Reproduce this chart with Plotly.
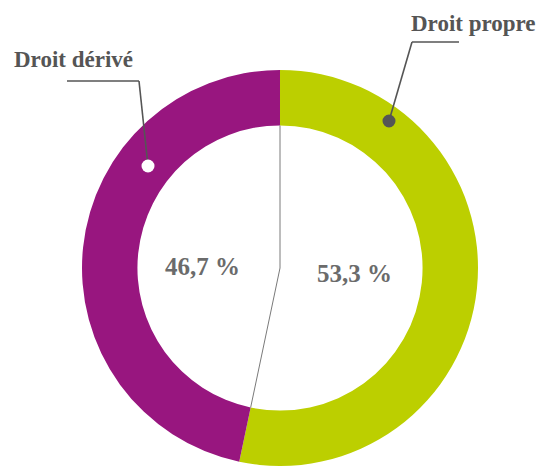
import math
import plotly.graph_objects as go

# ---- data ----
labels = ["Droit propre", "Droit dérivé"]
values = [53.3, 46.7]
pct_text = ["53,3 %", "46,7 %"]
colors = ["#bccf00", "#98167f"]

W, H = 537, 466
HOLE = 0.72

def px(x):
    return x / W

def py(y):
    return 1 - y / H

# pie geometry (pixels)
CX, CY, R = 280, 268, 198
dom_x = [px(CX - R - 2), px(CX + R + 2)]
dom_y = [py(CY + R), py(CY - R)]

fig = go.Figure(go.Pie(
    labels=labels, values=values, sort=False, direction="clockwise",
    rotation=0, hole=HOLE, textinfo="none", hoverinfo="label+percent",
    marker=dict(colors=colors, line=dict(width=0)),
    domain=dict(x=dom_x, y=dom_y), showlegend=False,
))

# separator lines computed from the data
r_in = HOLE * R
theta = 2 * math.pi * values[0] / sum(values)
bx = CX + r_in * math.sin(theta)
by = CY - r_in * math.cos(theta)
line_style = dict(color="#7a7a7a", width=1)
shapes = [
    dict(type="line", xref="paper", yref="paper", x0=px(CX), y0=py(CY - r_in),
         x1=px(CX), y1=py(CY), line=line_style),
    dict(type="line", xref="paper", yref="paper", x0=px(CX), y0=py(CY),
         x1=px(bx), y1=py(by), line=line_style),
]

# leader lines
lead = dict(color="#555555", width=1.6)
def seg(x0, y0, x1, y1):
    return dict(type="line", xref="paper", yref="paper", x0=px(x0), y0=py(y0),
                x1=px(x1), y1=py(y1), line=lead)

shapes += [
    seg(67, 81, 139, 81), seg(139, 81, 148, 166),
    seg(459, 42, 412, 42), seg(412, 42, 389, 121),
]
def dot(x, y, r, fill):
    return dict(type="circle", xref="paper", yref="paper",
                x0=px(x - r), x1=px(x + r), y0=py(y + r), y1=py(y - r),
                fillcolor=fill, line=dict(width=0))
shapes += [dot(148, 166, 6.5, "white"), dot(389, 121, 6.5, "#555555")]

font_lab = dict(family="Liberation Serif", size=23, color="#555555")
font_pct = dict(family="Liberation Serif", size=25, color="#6b6b6b")
annotations = [
    dict(text="<b>Droit propre</b>", x=px(473), y=py(23), xref="paper", yref="paper",
         showarrow=False, font=font_lab, xanchor="center", yanchor="middle"),
    dict(text="<b>Droit dérivé</b>", x=px(73), y=py(59), xref="paper", yref="paper",
         showarrow=False, font=font_lab, xanchor="center", yanchor="middle"),
    dict(text="<b>" + pct_text[1] + "</b>", x=px(202), y=py(266), xref="paper", yref="paper",
         showarrow=False, font=font_pct, xanchor="center", yanchor="middle"),
    dict(text="<b>" + pct_text[0] + "</b>", x=px(354), y=py(273), xref="paper", yref="paper",
         showarrow=False, font=font_pct, xanchor="center", yanchor="middle"),
]

fig.update_layout(
    width=W, height=H, margin=dict(l=0, r=0, t=0, b=0),
    paper_bgcolor="white", plot_bgcolor="white",
    shapes=shapes, annotations=annotations,
)
fig.write_html("out.html", config={"displayModeBar": False},
               post_script="document.body.style.margin='0';document.body.style.overflow='hidden';")
